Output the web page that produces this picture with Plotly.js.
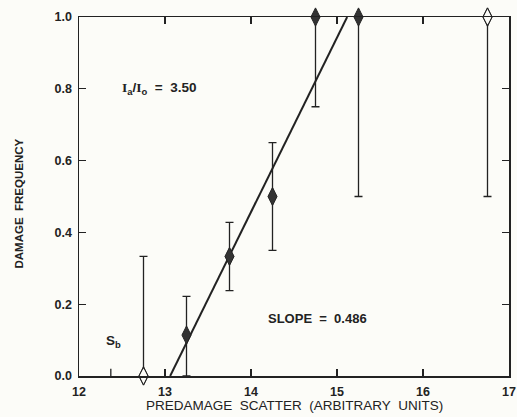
<!DOCTYPE html>
<html><head><meta charset="utf-8">
<script src="https://cdn.plot.ly/plotly-3.0.1.min.js"></script>
<style>html,body{margin:0;padding:0;background:#fcfcf8;}</style>
</head><body>
<div id="chart" style="width:517px;height:417px;"></div>
<script>
// Data
const scatterX = [12.75, 13.25, 13.75, 14.25, 14.75, 15.25, 16.75];
const damageFreq = [0, 0.114, 0.333, 0.5, 1.0, 1.0, 1.0];
const errUpper = [0.333, 0.108, 0.095, 0.15, 0, 0, 0];
const errLower = [0, 0.114, 0.095, 0.15, 0.25, 0.5, 0.5];
const isOpen = [true, false, false, false, false, false, true];
const fitX = [13.06, 15.118];
const fitY = [0, 1.0];
const xTickVals = [12, 13, 14, 15, 16, 17];
const yTickVals = [0, 0.2, 0.4, 0.6, 0.8, 1.0];
const sbX = 12.37;

const ink = '#222';
const FAM = 'Liberation Sans, Arial, sans-serif';

const traces = [
  {
    x: fitX, y: fitY, mode: 'lines', type: 'scatter',
    line: {color: ink, width: 2}, hoverinfo: 'skip', cliponaxis: false
  },
  {
    x: scatterX, y: damageFreq, mode: 'markers', type: 'scatter',
    cliponaxis: false,
    marker: {
      symbol: isOpen.map(o => o ? 'diamond-tall-open' : 'diamond-tall'),
      size: 13,
      color: isOpen.map(o => o ? ink : '#333'),
      line: {color: ink, width: 1}
    },
    error_y: {
      type: 'data', symmetric: false,
      array: errUpper, arrayminus: errLower,
      color: ink, thickness: 1.3, width: 4
    }
  },
  {
    x: scatterX.filter((v, i) => isOpen[i]),
    y: damageFreq.filter((v, i) => isOpen[i]),
    mode: 'markers', type: 'scatter', cliponaxis: false,
    marker: {symbol: 'diamond-tall', size: 11, color: '#fcfcf8'},
    hoverinfo: 'skip'
  },
  {
    x: scatterX.filter((v, i) => isOpen[i]),
    y: damageFreq.filter((v, i) => isOpen[i]),
    mode: 'markers', type: 'scatter', cliponaxis: false,
    marker: {symbol: 'diamond-tall-open', size: 13, color: ink, line: {width: 1}},
    hoverinfo: 'skip'
  }
];

const layout = {
  width: 517, height: 417,
  margin: {l: 79, r: 8, t: 17, b: 41},
  paper_bgcolor: '#fcfcf8', plot_bgcolor: '#fcfcf8',
  showlegend: false,
  font: {family: FAM, size: 12, color: ink},
  xaxis: {
    range: [12, 17], tickvals: xTickVals, ticktext: xTickVals.map(String),
    ticks: 'inside', ticklen: 7, tickwidth: 1.3, tickcolor: ink,
    showline: true, linecolor: ink, linewidth: 1.5, mirror: 'ticks',
    showgrid: false, zeroline: false, ticklabelstandoff: 3,
    tickfont: {family: FAM, size: 12.5, color: ink, weight: 'bold'}
  },
  yaxis: {
    range: [0, 1.0], tickvals: yTickVals, ticktext: yTickVals.map(v => v.toFixed(1)),
    ticks: 'inside', ticklen: 7, tickwidth: 1.3, tickcolor: ink,
    showline: true, linecolor: ink, linewidth: 1.5, mirror: 'ticks',
    showgrid: false, zeroline: false, ticklabelstandoff: 3,
    tickfont: {family: FAM, size: 12.5, color: ink, weight: 'bold'}
  },
  shapes: [
    {type: 'line', xref: 'x', yref: 'y', x0: sbX, x1: sbX, y0: 0, y1: 0.02,
     line: {color: ink, width: 1.3}}
  ],
  annotations: [
    {x: 0.502, y: -0.0, xref: 'paper', yref: 'paper', xanchor: 'center', yanchor: 'middle',
     yshift: -29, showarrow: false,
     text: 'PREDAMAGE\u00a0\u00a0SCATTER\u00a0\u00a0(ARBITRARY\u00a0\u00a0UNITS)',
     font: {family: FAM, size: 13.5, color: ink, weight: 500}},
    {x: 0, y: 0.5, xref: 'paper', yref: 'paper', xanchor: 'center', yanchor: 'middle',
     xshift: -61, yshift: -7, textangle: -90, showarrow: false,
     text: 'DAMAGE\u00a0\u00a0FREQUENCY',
     font: {family: FAM, size: 11.5, color: ink, weight: 'bold'}},
    {x: 12.48, y: 0.8, xref: 'x', yref: 'y', xanchor: 'left', yanchor: 'middle', showarrow: false,
     text: '<span style="font-family:Liberation Serif">I</span><sub>a</sub>/<span style="font-family:Liberation Serif">I</span><sub>o</sub>\u00a0\u00a0=\u00a0\u00a03.50',
     font: {family: FAM, size: 13.5, color: ink, weight: 'bold'}},
    {x: 14.17, y: 0.16, xref: 'x', yref: 'y', xanchor: 'left', yanchor: 'middle', showarrow: false,
     text: 'SLOPE\u00a0\u00a0=\u00a0\u00a00.486',
     font: {family: FAM, size: 13, color: ink, weight: 'bold'}},
    {x: 12.29, y: 0.095, xref: 'x', yref: 'y', xanchor: 'left', yanchor: 'middle', showarrow: false,
     text: 'S<sub>b</sub>',
     font: {family: FAM, size: 13.5, color: ink, weight: 'bold'}}
  ]
};

Plotly.newPlot('chart', traces, layout, {displayModeBar: false, staticPlot: true});
</script>
</body></html>
